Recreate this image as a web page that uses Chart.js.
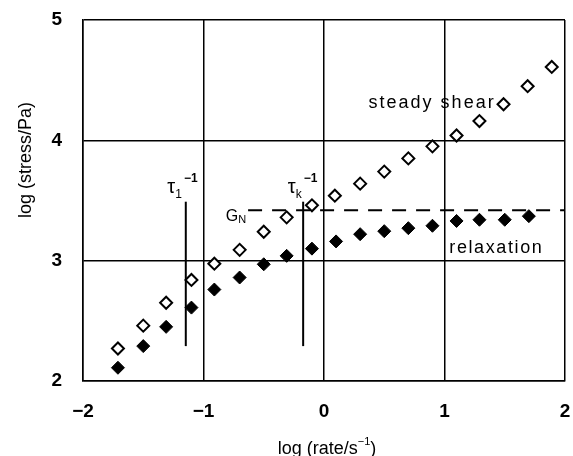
<!DOCTYPE html>
<html>
<head>
<meta charset="utf-8">
<script src="https://cdn.jsdelivr.net/npm/chart.js@4"></script>
<style>
  html, body { margin: 0; padding: 0; background: #fff; }
  #wrap { width: 573px; height: 456px; }
</style>
</head>
<body>
<div id="wrap"><canvas id="stressChart"></canvas></div>
<script>
// log(rate/s^-1)
var rateShear = [-1.71, -1.50, -1.31, -1.10, -0.91, -0.70, -0.50, -0.31, -0.10, 0.09, 0.30, 0.50, 0.70, 0.90, 1.10, 1.29, 1.49, 1.69, 1.89];
var stressShear = [2.27, 2.46, 2.65, 2.84, 2.975, 3.09, 3.24, 3.36, 3.46, 3.54, 3.64, 3.74, 3.85, 3.95, 4.04, 4.16, 4.30, 4.45, 4.61];
var rateRelax = [-1.71, -1.50, -1.31, -1.10, -0.91, -0.70, -0.50, -0.31, -0.10, 0.10, 0.30, 0.50, 0.70, 0.90, 1.10, 1.29, 1.50, 1.70];
var stressRelax = [2.11, 2.29, 2.45, 2.61, 2.76, 2.86, 2.97, 3.04, 3.10, 3.16, 3.22, 3.245, 3.27, 3.29, 3.33, 3.34, 3.34, 3.37];

// marker lines: 1/tau_1, 1/tau_k and plateau G_N
var tau1X = [-1.147, -1.147];
var taukX = [-0.173, -0.173];
var tauY = [2.29, 3.49];
var gnX = [-0.63, 2];
var gnY = [3.42, 3.42];

var xTicks = [-2, -1, 0, 1, 2];
var yTicks = [2, 3, 4, 5];

function pts(xs, ys) {
    return xs.map(function (x, i) { return { x: x, y: ys[i] }; });
}

var FONT = '"Liberation Sans", Arial, sans-serif';

// draws text pieces (normal / sub / sup) one after another
function drawRich(ctx, x, y, parts, align) {
    var total = 0;
    parts.forEach(function (p) {
        ctx.font = p.font;
        ctx.letterSpacing = (p.sp || 0) + 'px';
        p.w = ctx.measureText(p.t).width;
        total += p.w + (p.gap || 0);
    });
    var cx = align === 'center' ? x - total / 2 : x;
    parts.forEach(function (p) {
        ctx.font = p.font;
        ctx.letterSpacing = (p.sp || 0) + 'px';
        ctx.fillText(p.t, cx, y + (p.dy || 0));
        cx += p.w + (p.gap || 0);
    });
    ctx.letterSpacing = '0px';
}

function noPad(s) {
    s.paddingTop = 0;
    s.paddingBottom = 0;
    s.paddingLeft = 0;
    s.paddingRight = 0;
}

var labelPlugin = {
    id: 'labels',
    afterDraw: function (chart) {
        var ctx = chart.ctx;
        var xs = chart.scales.x;
        ctx.save();
        ctx.fillStyle = '#000';
        ctx.textAlign = 'left';
        ctx.textBaseline = 'alphabetic';

        // tau labels
        var big = '20px ' + FONT, small = '12px ' + FONT, smallB = 'bold 12px ' + FONT;
        drawRich(ctx, xs.getPixelForValue(-1.30), 193, [
            { t: 'τ', font: big },
            { t: '1', font: small, dy: 5, gap: 2 },
            { t: '−1', font: smallB, dy: -11 }
        ]);
        drawRich(ctx, xs.getPixelForValue(-0.30), 193, [
            { t: 'τ', font: big },
            { t: 'k', font: small, dy: 5, gap: 2 },
            { t: '−1', font: smallB, dy: -11 }
        ]);
        // G_N
        drawRich(ctx, xs.getPixelForValue(-0.815), 221, [
            { t: 'G', font: '16px ' + FONT },
            { t: 'N', font: '11px ' + FONT, dy: 2 }
        ]);

        ctx.font = '18px ' + FONT;
        ctx.letterSpacing = '2px';
        ctx.fillText('steady shear', xs.getPixelForValue(0.37), 108);
        ctx.letterSpacing = '1.6px';
        ctx.fillText('relaxation', xs.getPixelForValue(1.04), 253);
        ctx.letterSpacing = '0px';

        // axis titles
        drawRich(ctx, 327, 454, [
            { t: 'log (rate/s', font: '18px ' + FONT },
            { t: '−1', font: '11px ' + FONT, dy: -9 },
            { t: ')', font: '18px ' + FONT }
        ], 'center');

        ctx.translate(31, 160);
        ctx.rotate(-Math.PI / 2);
        ctx.textAlign = 'center';
        ctx.font = '18px ' + FONT;
        ctx.fillText('log (stress/Pa)', 0, 0);
        ctx.restore();
    }
};

var ctx = document.getElementById('stressChart').getContext('2d');
var chart = new Chart(ctx, {
    type: 'scatter',
    data: {
        datasets: [{
            label: 'tau1',
            data: pts(tau1X, tauY),
            showLine: true,
            borderColor: '#000',
            borderWidth: 2,
            pointRadius: 0
        }, {
            label: 'tauk',
            data: pts(taukX, tauY),
            showLine: true,
            borderColor: '#000',
            borderWidth: 2,
            pointRadius: 0
        }, {
            label: 'GN',
            data: pts(gnX, gnY),
            showLine: true,
            borderColor: '#000',
            borderWidth: 2,
            borderDash: [14, 10],
            pointRadius: 0
        }, {
            label: 'steady shear',
            data: pts(rateShear, stressShear),
            pointStyle: 'rectRot',
            pointRadius: 6,
            pointBorderWidth: 2,
            borderColor: '#000',
            backgroundColor: '#fff'
        }, {
            label: 'relaxation',
            data: pts(rateRelax, stressRelax),
            pointStyle: 'rectRot',
            pointRadius: 6.5,
            pointBorderWidth: 1,
            borderColor: '#000',
            backgroundColor: '#000'
        }]
    },
    options: {
        responsive: true,
        maintainAspectRatio: false,
        animation: false,
        layout: { padding: { top: 20, right: 4, left: 0, bottom: 0 } },
        plugins: {
            legend: { display: false },
            tooltip: { enabled: false }
        },
        scales: {
            x: {
                type: 'linear',
                min: -2,
                max: 2,
                afterBuildTicks: function (s) { s.ticks = xTicks.map(function (v) { return { value: v }; }); },
                afterFit: function (s) { s.height = 75; noPad(s); },
                ticks: {
                    color: '#000',
                    padding: 19,
                    maxRotation: 0,
                    font: { family: FONT, size: 19, weight: 'bold' },
                    callback: function (v) { return v < 0 ? '−' + Math.abs(v) : String(v); }
                },
                grid: { color: '#000', lineWidth: 1.5, drawTicks: false },
                border: { color: '#000', width: 1.5 }
            },
            y: {
                type: 'linear',
                min: 2,
                max: 5,
                afterBuildTicks: function (s) { s.ticks = yTicks.map(function (v) { return { value: v }; }); },
                afterFit: function (s) { s.width = 83; noPad(s); },
                ticks: {
                    color: '#000',
                    padding: 21,
                    font: { family: FONT, size: 19, weight: 'bold' }
                },
                grid: { color: '#000', lineWidth: 1.5, drawTicks: false },
                border: { color: '#000', width: 1.5 }
            }
        }
    },
    plugins: [labelPlugin]
});
</script>
</body>
</html>
